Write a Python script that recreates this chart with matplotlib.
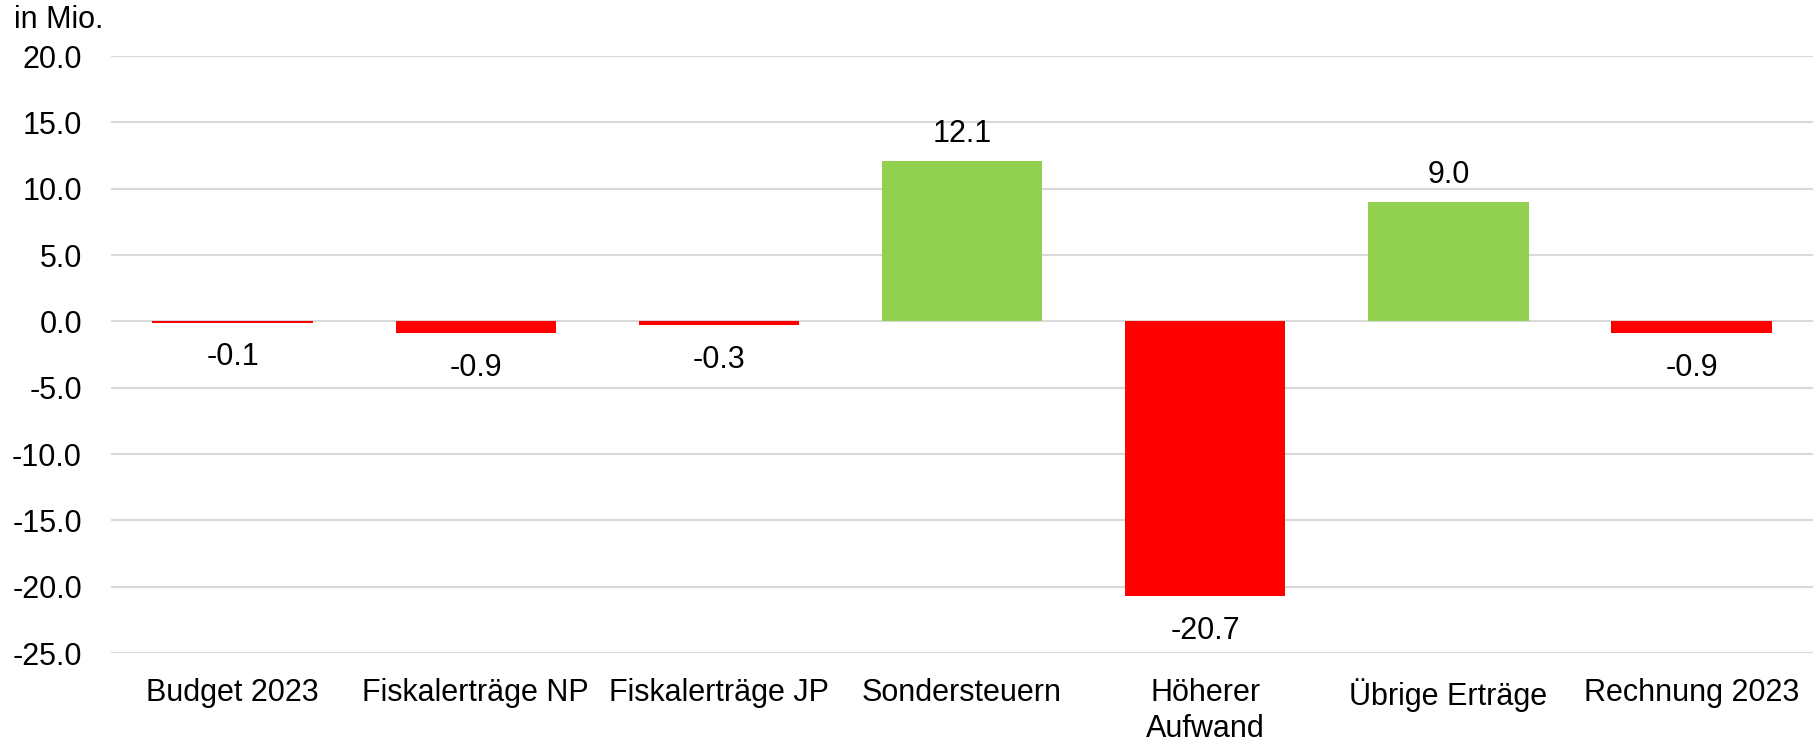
import matplotlib.pyplot as plt

# Daten (in Mio.)
kategorien = ['Budget 2023', 'Fiskalerträge NP', 'Fiskalerträge JP', 'Sondersteuern',
              'Höherer\nAufwand', 'Übrige Erträge', 'Rechnung 2023']
werte = [-0.1, -0.9, -0.3, 12.1, -20.7, 9.0, -0.9]
y_ticks = [20, 15, 10, 5, 0, -5, -10, -15, -20, -25]

rot = '#FF0000'
gruen = '#92D050'
farben = [gruen if w > 0 else rot for w in werte]

plt.rcParams['font.family'] = ['Liberation Sans', 'DejaVu Sans']

fig = plt.figure(figsize=(18.18, 7.42), dpi=100)
ax = fig.add_axes([0.0611, 0.1199, 0.9362, 0.8046])

x = range(len(kategorien))
ax.bar(x, werte, width=0.66, color=farben, zorder=2)

# Datenbeschriftungen
for i, w in enumerate(werte):
    off = 19.5 if w > 0 else -25
    ax.annotate(f'{w:.1f}', (i, w), xytext=(0, off), textcoords='offset points',
                ha='center', va='center', fontsize=22)

ax.set_xlim(-0.5, len(kategorien) - 0.5)
ax.set_ylim(-25, 20)
ax.set_yticks(y_ticks)
ax.set_yticklabels([f'{t:.1f}' for t in y_ticks])
ax.set_xticks(list(x))
ax.set_xticklabels(kategorien, linespacing=1.25)
ax.tick_params(axis='both', length=0, labelsize=22)
ax.tick_params(axis='y', pad=21)
ax.tick_params(axis='x', pad=18)

ax.grid(axis='y', color='#D9D9D9', linewidth=1.5, zorder=0)
for s in ax.spines.values():
    s.set_visible(False)

fig.text(0.0077, 0.973, 'in Mio.', fontsize=22, ha='left', va='center')

plt.savefig('out.png', dpi=100)
